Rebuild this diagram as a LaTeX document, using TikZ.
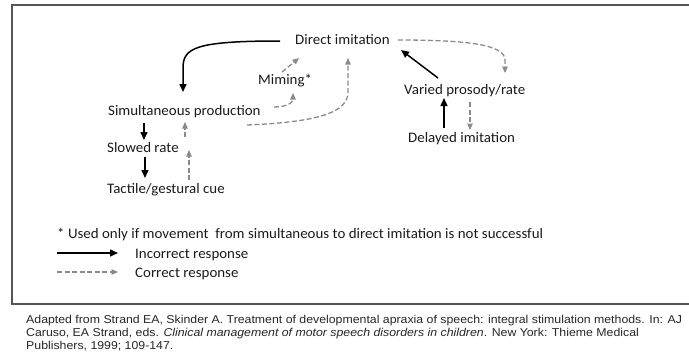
\documentclass[tikz,border=0pt]{standalone}
\usepackage{fontspec}
\setmainfont[FakeStretch=1.03]{Carlito}
\newfontfamily\capfont[FakeStretch=1.08]{Liberation Sans}
\usetikzlibrary{arrows.meta,calc}
\definecolor{dgray}{HTML}{8A8A8A}
\definecolor{tblack}{HTML}{1A1A1A}
\definecolor{framegray}{HTML}{555555}
\tikzset{
  lbl/.style={anchor=base west,inner sep=0pt,font=\fontsize{14.5}{16}\selectfont,text=tblack},
  captext/.style={anchor=base west,inner sep=0pt,font=\capfont\fontsize{11.4}{13}\selectfont,text=black!85},
  inc/.style={draw=black,line width=1.5pt,-{Triangle[length=8pt,width=7pt]}},
  cor/.style={draw=dgray,line width=1.3pt,dash pattern=on 5pt off 2.5pt,-{Triangle[length=6.5pt,width=5.5pt]}}
}
\begin{document}
\begin{tikzpicture}[x=1pt,y=-1pt]
\useasboundingbox (0,0) rectangle (689,356);
\draw[framegray,line width=1.5pt] (695,5) -- (12,5) -- (12,304) -- (695,304);
% nodes
\node[lbl] (dir) at (295,45) {Direct imitation};
\node[lbl] (mim) at (258,84) {Miming*};
\node[lbl] (sim) at (108,115) {Simultaneous production};
\node[lbl] (slow) at (107,152) {Slowed rate};
\node[lbl] (tact) at (107,193) {Tactile/gestural cue};
\node[lbl] (var) at (404,94) {Varied prosody/rate};
\node[lbl] (del) at (408,142) {Delayed imitation};
\node[lbl] (note) at (57,238) {* Used only if movement\ \ from simultaneous to direct imitation is not successful};
\node[lbl] (incl) at (135,258) {Incorrect response};
\node[lbl] (corl) at (135,277) {Correct response};
\node[captext] (c1) at (26,323) {Adapted from Strand EA, Skinder A. Treatment of developmental apraxia of speech: integral stimulation methods. In: AJ};
\node[captext] (c2) at (26,336) {Caruso, EA Strand, eds. \textit{Clinical management of motor speech disorders in children}. New York: Thieme Medical};
\node[captext] (c3) at (26,349) {Publishers, 1999; 109-147.};
% connectors
\draw[inc] ($(dir.base west)+(-15,-4)$) .. controls +(-85,0) and +(0,-20) .. ($(sim.base west)+(75,-47)$) -- ($(sim.base west)+(75,-23)$);
\draw[cor] ($(mim.base west)+(24,-12)$) -- ($(dir.base west)+(4,13)$);
\draw[cor] ($(sim.base west)+(166,-8)$) .. controls +(14,0) and +(0,9) .. ($(mim.base west)+(35,9)$);
\draw[cor] ($(sim.base west)+(139,10)$) .. controls +(73,-3) and +(0,20) .. ($(dir.base west)+(53,47)$) -- ($(dir.base west)+(53,13)$);
\draw[cor] ($(slow.base west)+(78,-15)$) -- ($(sim.base west)+(77,7)$);
\draw[cor] ($(tact.base west)+(82,-13)$) -- ($(slow.base west)+(82,-2)$);
\draw[inc] ($(sim.base west)+(36,8)$) -- ($(slow.base west)+(37,-12)$);
\draw[inc] ($(slow.base west)+(38,5)$) -- ($(tact.base west)+(38,-15)$);
\draw[cor] ($(dir.base west)+(103,-5)$) .. controls +(72,0) and +(0,-15) .. ($(var.base west)+(101,-34)$) -- ($(var.base west)+(101,-21)$);
\draw[inc] ($(var.base west)+(34,-16)$) -- ($(dir.base west)+(106,5)$);
\draw[inc] ($(del.base west)+(36,-14)$) -- ($(var.base west)+(40,4)$);
\draw[cor] ($(var.base west)+(66,8)$) -- ($(del.base west)+(62,-12)$);
% legend
\draw[inc] ($(incl.base west)+(-78,-5)$) -- ($(incl.base west)+(-17,-5)$);
\draw[cor] ($(corl.base west)+(-78,-5)$) -- ($(corl.base west)+(-17,-5)$);
\end{tikzpicture}
\end{document}
